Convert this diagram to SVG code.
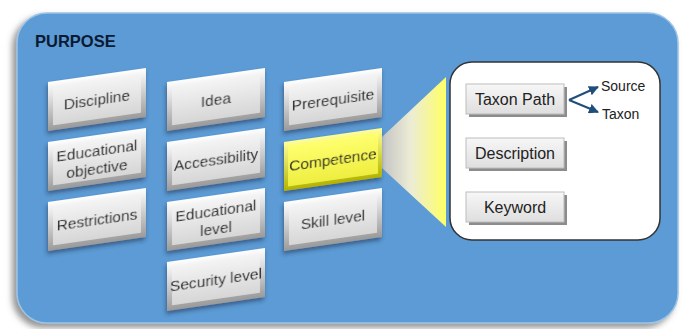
<svg xmlns="http://www.w3.org/2000/svg" width="686" height="329" viewBox="0 0 686 329">
<defs>
<filter id="sh" x="-10%" y="-10%" width="120%" height="120%"><feDropShadow dx="-4" dy="4" stdDeviation="3" flood-color="#666" flood-opacity="0.7"/></filter>
<filter id="bsh" x="-20%" y="-20%" width="140%" height="150%"><feDropShadow dx="-1" dy="3" stdDeviation="2" flood-color="#1a3050" flood-opacity="0.55"/></filter>
<linearGradient id="gOut" x1="0" y1="0" x2="0" y2="1"><stop offset="0" stop-color="#ffffff"/><stop offset="1" stop-color="#9a9a9a"/></linearGradient>
<linearGradient id="gIn" x1="0" y1="0" x2="0" y2="1"><stop offset="0" stop-color="#f4f4f4"/><stop offset="1" stop-color="#d6d6d6"/></linearGradient>
<linearGradient id="yOut" x1="0" y1="0" x2="0" y2="1"><stop offset="0" stop-color="#ffff99"/><stop offset="1" stop-color="#b3b300"/></linearGradient>
<linearGradient id="yIn" x1="0" y1="0" x2="0" y2="1"><stop offset="0" stop-color="#ffff70"/><stop offset="1" stop-color="#eeee40"/></linearGradient>
<linearGradient id="fun" x1="0" y1="0" x2="1" y2="0"><stop offset="0" stop-color="#c4c4c4"/><stop offset="0.45" stop-color="#ececd6"/><stop offset="1" stop-color="#ffff66"/></linearGradient>
<linearGradient id="btn" x1="0" y1="0" x2="0" y2="1"><stop offset="0" stop-color="#f7f7f7"/><stop offset="1" stop-color="#dedede"/></linearGradient>
<marker id="ah" viewBox="0 0 10 10" refX="9" refY="5" markerWidth="5" markerHeight="5" orient="auto"><path d="M0,0 L10,5 L0,10 z" fill="#1f4e79"/></marker>
</defs>
<style>
.t{font-family:"Liberation Sans",Arial,sans-serif;font-size:15.5px;fill:#222;text-anchor:middle}
.bt{font-family:"Liberation Sans",Arial,sans-serif;font-size:16px;fill:#222;text-anchor:middle}
.s{font-family:"Liberation Sans",Arial,sans-serif;font-size:14px;fill:#222}
.o{fill:url(#gOut)}
.i{fill:url(#gIn)}
.yo{fill:url(#yOut)}
.yi{fill:url(#yIn)}
.b{filter:url(#bsh)}
.c{stroke:#1f4e79;stroke-width:2;fill:none;marker-end:url(#ah)}
</style>
<g id="container">
<rect x="17" y="13" width="661" height="310" rx="30" fill="#5b9bd5" stroke="#9dc3e6" stroke-width="1.5" filter="url(#sh)"/>
<text x="35" y="47" font-family="Liberation Sans,Arial,sans-serif" font-size="16.5" font-weight="bold" fill="#0b1a33">PURPOSE</text>
</g>
<g id="discipline" class="b" transform="translate(48,82) skewY(-8.13)"><rect class="o" width="98" height="49"/><rect class="i" x="5" y="5" width="88" height="39"/><text class="t" x="49" y="30">Discipline</text></g>
<g id="educational-objective" class="b" transform="translate(48,142) skewY(-8.13)"><rect class="o" width="98" height="49"/><rect class="i" x="5" y="5" width="88" height="39"/><text class="t" x="49" y="21">Educational</text><text class="t" x="49" y="39">objective</text></g>
<g id="restrictions" class="b" transform="translate(48,202) skewY(-8.13)"><rect class="o" width="98" height="49"/><rect class="i" x="5" y="5" width="88" height="39"/><text class="t" x="49" y="30">Restrictions</text></g>
<g id="idea" class="b" transform="translate(167,82) skewY(-8.13)"><rect class="o" width="98" height="49"/><rect class="i" x="5" y="5" width="88" height="39"/><text class="t" x="49" y="30">Idea</text></g>
<g id="accessibility" class="b" transform="translate(167,142) skewY(-8.13)"><rect class="o" width="98" height="49"/><rect class="i" x="5" y="5" width="88" height="39"/><text class="t" x="49" y="30">Accessibility</text></g>
<g id="educational-level" class="b" transform="translate(167,202) skewY(-8.13)"><rect class="o" width="98" height="49"/><rect class="i" x="5" y="5" width="88" height="39"/><text class="t" x="49" y="21">Educational</text><text class="t" x="49" y="39">level</text></g>
<g id="security-level" class="b" transform="translate(167,262) skewY(-8.13)"><rect class="o" width="98" height="49"/><rect class="i" x="5" y="5" width="88" height="39"/><text class="t" x="49" y="30">Security level</text></g>
<g id="prerequisite" class="b" transform="translate(284,82) skewY(-8.13)"><rect class="o" width="98" height="49"/><rect class="i" x="5" y="5" width="88" height="39"/><text class="t" x="49" y="30">Prerequisite</text></g>
<g id="funnel"><polygon points="382,137 446,77 446,227 382,168" fill="url(#fun)"/></g>
<g id="competence" class="b" transform="translate(284,142) skewY(-8.13)"><rect class="yo" width="98" height="49"/><rect class="yi" x="4" y="4" width="90" height="41"/><text class="t" x="49" y="30">Competence</text></g>
<g id="skill-level" class="b" transform="translate(284,202) skewY(-8.13)"><rect class="o" width="98" height="49"/><rect class="i" x="5" y="5" width="88" height="39"/><text class="t" x="49" y="30">Skill level</text></g>
<g id="panel"><rect x="450" y="62" width="210" height="178" rx="22" fill="#ffffff" stroke="#333333" stroke-width="1.5"/></g>
<g id="taxon-path"><rect x="469" y="87" width="98" height="30" fill="#8c8c8c"/><rect x="466" y="84" width="98" height="30" fill="url(#btn)" stroke="#bdbdbd"/><text class="bt" x="515" y="105">Taxon Path</text></g>
<g id="description"><rect x="469" y="141" width="98" height="30" fill="#8c8c8c"/><rect x="466" y="138" width="98" height="30" fill="url(#btn)" stroke="#bdbdbd"/><text class="bt" x="515" y="159">Description</text></g>
<g id="keyword"><rect x="469" y="195" width="98" height="30" fill="#8c8c8c"/><rect x="466" y="192" width="98" height="30" fill="url(#btn)" stroke="#bdbdbd"/><text class="bt" x="515" y="213">Keyword</text></g>
<g id="connectors">
<path class="c" d="M569,100 L598,87"/>
<path class="c" d="M569,100 L598,112"/>
</g>
<g id="labels">
<text class="s" x="601" y="91">Source</text>
<text class="s" x="602" y="119">Taxon</text>
</g>
</svg>
